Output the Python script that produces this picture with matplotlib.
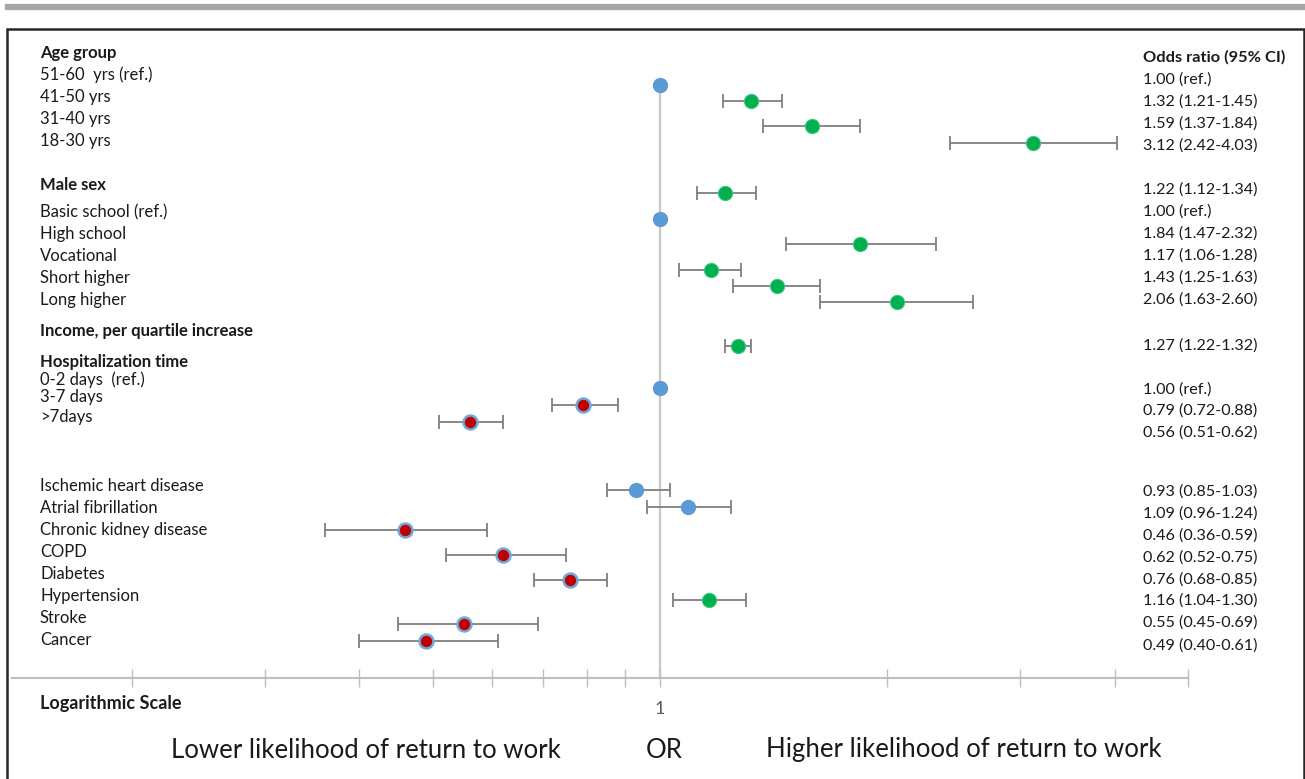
import numpy as np
import matplotlib
matplotlib.use("Agg")
import matplotlib.pyplot as plt
from matplotlib.ticker import FixedLocator, FixedFormatter, NullLocator
from matplotlib.transforms import blended_transform_factory
from matplotlib.patches import Rectangle
from matplotlib.lines import Line2D

plt.rcParams['font.family'] = ['Lato', 'DejaVu Sans']

# ---- row labels (left column) ----
row_labels = ["Age group", "51-60  yrs (ref.)", "41-50 yrs", "31-40 yrs", "18-30 yrs",
              "Male sex", "Basic school (ref.)", "High school", "Vocational", "Short higher",
              "Long higher", "Income, per quartile increase", "Hospitalization time",
              "0-2 days  (ref.)", "3-7 days", ">7days",
              "Ischemic heart disease", "Atrial fibrillation", "Chronic kidney disease",
              "COPD", "Diabetes", "Hypertension", "Stroke", "Cancer"]
row_bold = [True, False, False, False, False,
            True, False, False, False, False,
            False, True, True,
            False, False, False,
            False, False, False, False, False, False, False, False]
row_y = [53, 75, 97, 119, 141, 185, 212, 234, 256, 278, 300, 331, 362,
         380, 397, 417, 486, 508, 530, 552, 574, 596, 618, 640]

# ---- odds ratios with 95% CI (None = reference category) ----
odds = [1.00, 1.32, 1.59, 3.12, 1.22, 1.00, 1.84, 1.17, 1.43, 2.06, 1.27,
        1.00, 0.79, 0.56, 0.93, 1.09, 0.46, 0.62, 0.76, 1.16, 0.55, 0.49]
ci_low = [None, 1.21, 1.37, 2.42, 1.12, None, 1.47, 1.06, 1.25, 1.63, 1.22,
          None, 0.72, 0.51, 0.85, 0.96, 0.36, 0.52, 0.68, 1.04, 0.45, 0.40]
ci_high = [None, 1.45, 1.84, 4.03, 1.34, None, 2.32, 1.28, 1.63, 2.60, 1.32,
           None, 0.88, 0.62, 1.03, 1.24, 0.59, 0.75, 0.85, 1.30, 0.69, 0.61]
marker_y = [85, 101, 126, 143, 193, 219, 244, 270, 286, 302, 346,
            388, 405, 422, 490, 507, 530, 555, 580, 600, 624, 641]
or_text_y = [80, 102, 124, 146, 190, 212, 234, 256, 278, 300, 346,
             390, 411, 433, 492, 514, 536, 558, 580, 601, 623, 646]

tick_vals = [0.2, 0.3, 0.4, 0.5, 0.6, 0.7, 0.8, 0.9, 1, 2, 3, 4, 5]
tick_text = ["", "", "", "", "", "", "", "", "1", "", "", "", ""]

# ---- canvas: one axes over the whole figure, y in pixel rows ----
W, H = 1305, 779
x_one, px_per_ln = 660, 328
axis_y = 678

fig = plt.figure(figsize=(W / 100, H / 100), dpi=100)
ax = fig.add_axes([0, 0, 1, 1])
ax.set_xscale('log')
ax.set_xlim(np.exp(-x_one / px_per_ln), np.exp((W - x_one) / px_per_ln))
ax.set_ylim(H, 0)

for s in ['top', 'left', 'right']:
    ax.spines[s].set_visible(False)
ax.spines['bottom'].set_position(('data', axis_y))
ax.spines['bottom'].set_bounds(np.exp((12 - x_one) / px_per_ln), 5)
ax.spines['bottom'].set_color('#bfbfbf')
ax.spines['bottom'].set_linewidth(1.5)
ax.xaxis.set_major_locator(FixedLocator(tick_vals))
ax.xaxis.set_major_formatter(FixedFormatter(tick_text))
ax.xaxis.set_minor_locator(NullLocator())
ax.tick_params(axis='x', direction='inout', length=13, width=1, color='#bfbfbf',
               labelsize=13, labelcolor='#595959', pad=10)
ax.set_yticks([])

# reference line at OR = 1
ax.vlines(1, marker_y[0], axis_y, color='#c8c8c8', lw=1.6, zorder=1)

# ---- estimates ----
for o, lo, hi, y in zip(odds, ci_low, ci_high, marker_y):
    if lo is not None:
        ax.errorbar(o, y, xerr=[[o - lo], [hi - o]], fmt='none', ecolor='#7f7f7f',
                    elinewidth=1.3, capsize=5, capthick=1.3, zorder=2)
    if lo is None or (lo < 1 < hi):
        ax.plot(o, y, 'o', ms=10, mfc='#5b9bd5', mec='#5b9bd5', zorder=3)
    elif lo > 1:
        ax.plot(o, y, 'o', ms=10.2, mfc='#00b050', mec='#3cc77a', mew=0.8, zorder=3)
    else:
        ax.plot(o, y, 'o', ms=10, mfc='#c00000', mec='#6fa8dc', mew=1.8, zorder=3)

# ---- text columns ----
tr = blended_transform_factory(ax.transAxes, ax.transData)
text_col = '#1a1a1a'
for lab, b, y in zip(row_labels, row_bold, row_y):
    ax.text(40 / W, y, lab, transform=tr, ha='left', va='center', fontsize=12,
            fontweight='bold' if b else 'normal', color=text_col)

ax.text(1143 / W, 57, "Odds ratio (95% CI)", transform=tr, ha='left', va='center',
        fontsize=11.8, fontweight='bold', color=text_col)
for o, lo, hi, y in zip(odds, ci_low, ci_high, or_text_y):
    s = f"{o:.2f} (ref.)" if lo is None else f"{o:.2f} ({lo:.2f}-{hi:.2f})"
    ax.text(1143 / W, y, s, transform=tr, ha='left', va='center', fontsize=11.6,
            color=text_col)

ax.text(40 / W, 703, "Logarithmic Scale", transform=tr, ha='left', va='center',
        fontsize=13, fontweight='bold', color=text_col)
ax.text(366 / W, 750, "Lower likelihood of return to work", transform=tr,
        ha='center', va='center', fontsize=18.5, color=text_col)
ax.text(664 / W, 750, "OR", transform=tr, ha='center', va='center',
        fontsize=18.5, color=text_col)
ax.text(964 / W, 750, "Higher likelihood of return to work", transform=tr,
        ha='center', va='center', fontsize=18.5, color=text_col)

# ---- frame and top rule ----
fig.add_artist(Rectangle((7 / W, -0.05), (1304 - 7) / W, 1.05 - 29 / H,
                         transform=fig.transFigure, fill=False, ec='#262626', lw=1.8))
fig.add_artist(Line2D([8 / W, 1.0], [1 - 7 / H, 1 - 7 / H], transform=fig.transFigure,
                      color='#a6a6a6', lw=4.5))

fig.savefig("out.png", dpi=100)
